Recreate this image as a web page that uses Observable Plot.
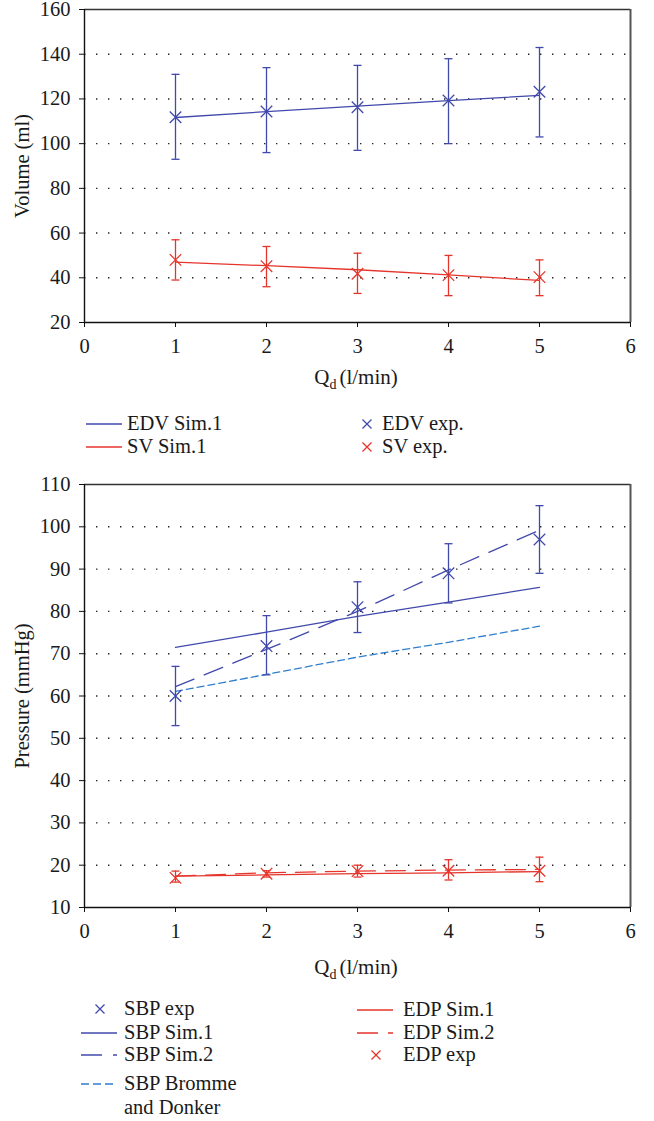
<!DOCTYPE html>
<html><head><meta charset="utf-8">
<script src="https://cdn.jsdelivr.net/npm/d3@7"></script>
<script src="https://cdn.jsdelivr.net/npm/@observablehq/plot@0.6"></script>
<style>
body{margin:0;background:#fff;}
#page{position:relative;width:654px;height:1121px;font-family:"Liberation Serif",serif;color:#1a1a1a;overflow:hidden;}
.chart{position:absolute;left:0;}
.xlabel{position:absolute;width:200px;text-align:center;font-size:21px;line-height:20px;white-space:nowrap;}
.xlabel sub{font-size:14px;vertical-align:-5px;line-height:0;margin-right:3px;}
.leg{position:absolute;font-size:20.5px;line-height:20px;white-space:nowrap;}
.sw{position:absolute;overflow:visible;}
</style></head><body><div id="page"></div>
<script>
// ---- data ----
const qd = [1, 2, 3, 4, 5];
const xTicks = [0, 1, 2, 3, 4, 5, 6];

// Volume chart
const volTicks = [20, 40, 60, 80, 100, 120, 140, 160];
const edvSim1 = [111.7, 114.3, 116.8, 119.2, 121.6];
const edvExp = [111.8, 114.4, 116.3, 119.3, 123.2];
const edvExpLo = [93, 96, 97, 100, 103];
const edvExpHi = [131, 134, 135, 138, 143];
const svSim1 = [47, 45.4, 43.6, 41.3, 38.8];
const svExp = [48, 45.2, 41.8, 41.2, 40.3];
const svExpLo = [39, 36, 33, 32, 32];
const svExpHi = [57, 54, 51, 50, 48];

// Pressure chart
const presTicks = [10, 20, 30, 40, 50, 60, 70, 80, 90, 100, 110];
const sbpExp = [60, 71.8, 81, 89, 97];
const sbpExpLo = [53, 65, 75, 82, 89];
const sbpExpHi = [67, 79, 87, 96, 105];
const sbpSim1 = [71.5, 75.1, 78.8, 82.2, 85.7];
const sbpSim2 = [62.2, 71, 80, 89.8, 99.2];
const sbpBromme = [61.1, 65.1, 69.2, 72.7, 76.5];
const edpSim1 = [17.4, 17.7, 18.0, 18.2, 18.5];
const edpSim2 = [17.4, 18.2, 18.6, 18.85, 19.0];
const edpExp = [17.0, 18.0, 18.6, 18.7, 18.7];
const edpExpLo = [16.0, 17.2, 17.2, 16.5, 16.1];
const edpExpHi = [18.6, 18.7, 20.0, 21.3, 21.9];

// ---- styles ----
const BLUE = "#4149ab";
const LBLUE = "#2f7fd0";
const RED = "#e5352b";
const FONT = "'Liberation Serif', serif";

const series = (vals) => qd.map((q, i) => ({q, v: vals[i]}));
const expRows = (vals, lo, hi) => qd.map((q, i) => ({q, v: vals[i], lo: lo[i], hi: hi[i]}));

const capSymbol = {draw(ctx) { ctx.moveTo(-4, 0); ctx.lineTo(4, 0); }};

function expMarks(rows, color) {
  return [
    Plot.ruleX(rows, {x: "q", y1: "lo", y2: "hi", stroke: color, strokeWidth: 1.3}),
    Plot.dot(rows, {x: "q", y: "lo", symbol: capSymbol, fill: "none", stroke: color, strokeWidth: 1.3}),
    Plot.dot(rows, {x: "q", y: "hi", symbol: capSymbol, fill: "none", stroke: color, strokeWidth: 1.3}),
    Plot.dot(rows, {x: "q", y: "v", symbol: "times", r: 5.3, fill: "none", stroke: color, strokeWidth: 1.3})
  ];
}
function lineMark(vals, color, dash) {
  return Plot.line(series(vals), {x: "q", y: "v", stroke: color, strokeWidth: 1.3, strokeDasharray: dash});
}

function chart({yDomain, yTicks, height, marginTop, marginBottom, ylabel, marks}) {
  return Plot.plot({
    width: 654, height, marginLeft: 84, marginRight: 24, marginTop, marginBottom,
    style: {fontFamily: FONT, fontSize: "20.5px", color: "#1a1a1a", background: "white", overflow: "visible"},
    x: {domain: [0, 6]},
    y: {domain: yDomain},
    marks: [
      Plot.gridY(yTicks.slice(1, -1), {stroke: "#222", strokeOpacity: 1, strokeWidth: 1.4, strokeDasharray: "1.4,10.6"}),
      ...marks,
      Plot.ruleY([yDomain[1]], {stroke: "#333", strokeWidth: 1.4}),
      Plot.ruleX([6], {stroke: "#555", strokeWidth: 2}),
      Plot.ruleY([yDomain[0]], {stroke: "#111", strokeWidth: 1.4}),
      Plot.ruleX([0], {stroke: "#111", strokeWidth: 1.4}),
      Plot.axisY(yTicks, {tickSize: 5, tickPadding: 9, stroke: "#111", label: ylabel, labelAnchor: "center", labelArrow: "none", labelOffset: 70}),
      Plot.axisX(xTicks, {tickSize: 5, tickPadding: 11, stroke: "#111", label: null})
    ]
  });
}

const page = document.getElementById("page");

// ---- chart 1 ----
const c1 = chart({
  yDomain: [20, 160], yTicks: volTicks, height: 350, marginTop: 9, marginBottom: 28, ylabel: "Volume (ml)",
  marks: [
    lineMark(edvSim1, BLUE),
    lineMark(svSim1, RED),
    ...expMarks(expRows(edvExp, edvExpLo, edvExpHi), BLUE),
    ...expMarks(expRows(svExp, svExpLo, svExpHi), RED)
  ]
});
c1.classList.add("chart"); c1.style.top = "0px";
page.appendChild(c1);

// ---- chart 2 ----
const c2 = chart({
  yDomain: [10, 110], yTicks: presTicks, height: 470, marginTop: 14, marginBottom: 33, ylabel: "Pressure (mmHg)",
  marks: [
    lineMark(sbpBromme, LBLUE, "7,4"),
    lineMark(sbpSim1, BLUE),
    lineMark(sbpSim2, BLUE, "20,11"),
    lineMark(edpSim1, RED),
    lineMark(edpSim2, RED, "20,10"),
    ...expMarks(expRows(sbpExp, sbpExpLo, sbpExpHi), BLUE),
    ...expMarks(expRows(edpExp, edpExpLo, edpExpHi), RED)
  ]
});
c2.classList.add("chart"); c2.style.top = "470px";
page.appendChild(c2);

// ---- x labels ----
function xlabel(cy) {
  const d = document.createElement("div");
  d.className = "xlabel";
  d.style.left = (356 - 100) + "px";
  d.style.top = (cy - 10) + "px";
  d.innerHTML = "Q<sub>d</sub>(l/min)";
  page.appendChild(d);
}
xlabel(377);
xlabel(967);

// ---- legends ----
function swatch(x, cy, kind, color, dash) {
  const ns = "http://www.w3.org/2000/svg";
  const s = document.createElementNS(ns, "svg");
  s.setAttribute("class", "sw");
  s.setAttribute("width", 40); s.setAttribute("height", 12);
  s.style.left = x + "px"; s.style.top = (cy - 6) + "px";
  if (kind === "x") {
    const p = document.createElementNS(ns, "path");
    p.setAttribute("d", "M1.5,1.5L10.5,10.5M1.5,10.5L10.5,1.5");
    p.setAttribute("stroke", color); p.setAttribute("stroke-width", 1.3); p.setAttribute("fill", "none");
    s.style.left = (x - 6) + "px";
    s.appendChild(p);
  } else {
    const l = document.createElementNS(ns, "line");
    l.setAttribute("x1", 0); l.setAttribute("x2", 36); l.setAttribute("y1", 6); l.setAttribute("y2", 6);
    l.setAttribute("stroke", color); l.setAttribute("stroke-width", 1.6);
    if (dash) l.setAttribute("stroke-dasharray", dash);
    s.appendChild(l);
  }
  page.appendChild(s);
}
function legText(x, cy, text) {
  const d = document.createElement("div");
  d.className = "leg";
  d.style.left = x + "px"; d.style.top = (cy - 11) + "px";
  d.textContent = text;
  page.appendChild(d);
}
// legend 1
swatch(86, 424, "line", BLUE); legText(127, 424, "EDV Sim.1");
swatch(86, 447, "line", RED); legText(127, 447, "SV Sim.1");
swatch(367, 424, "x", BLUE); legText(382, 424, "EDV exp.");
swatch(367, 447, "x", RED); legText(382, 447, "SV exp.");
// legend 2
swatch(100, 1009, "x", BLUE); legText(124, 1009, "SBP exp");
swatch(81, 1033, "line", BLUE); legText(124, 1033, "SBP Sim.1");
swatch(81, 1055, "line", BLUE, "21,11"); legText(124, 1055, "SBP Sim.2");
swatch(81, 1084, "line", LBLUE, "8,4"); legText(124, 1084, "SBP Bromme");
legText(124, 1108, "and Donker");
swatch(357, 1010, "line", RED); legText(403, 1010, "EDP Sim.1");
swatch(357, 1033, "line", RED, "21,10"); legText(403, 1033, "EDP Sim.2");
swatch(376, 1055, "x", RED); legText(403, 1055, "EDP exp");
</script>
</body></html>
